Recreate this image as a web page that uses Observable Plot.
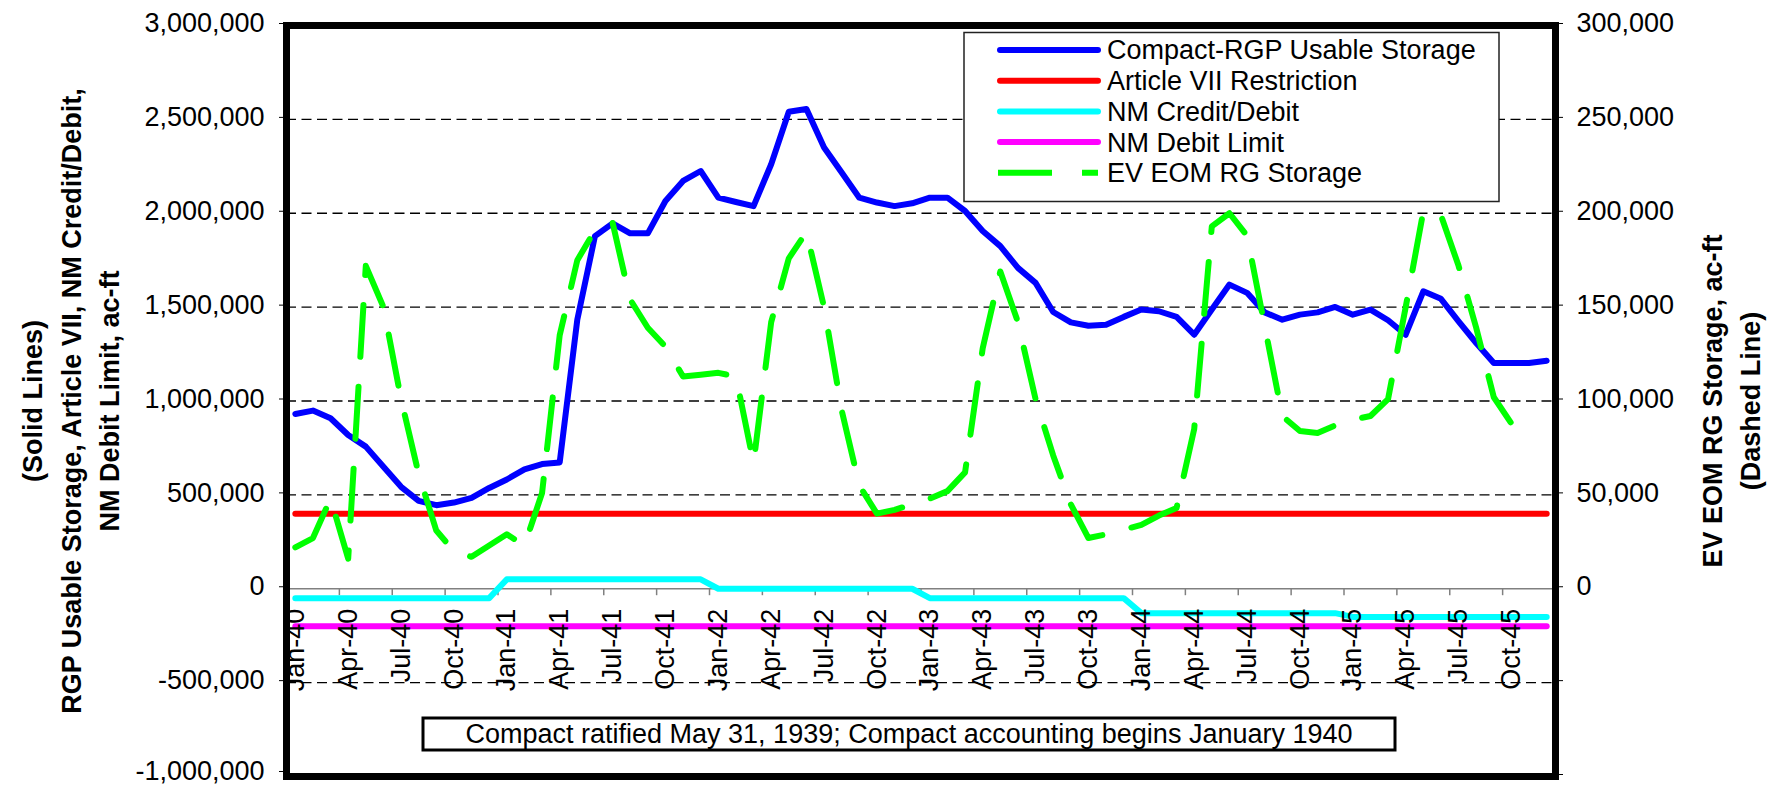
<!DOCTYPE html>
<html>
<head>
<meta charset="utf-8">
<script src="https://cdn.jsdelivr.net/npm/d3@7"></script>
<script src="https://cdn.jsdelivr.net/npm/@observablehq/plot@0.6"></script>
<style>
  html, body { margin: 0; padding: 0; background: #fff; }
  #chart { width: 1769px; height: 787px; }
</style>
</head>
<body>
<div id="chart"></div>
<script>
// ---------- DATA (monthly, Jan-1940 .. Dec-1945) ----------
const quarterLabels = [
  "Jan-40","Apr-40","Jul-40","Oct-40",
  "Jan-41","Apr-41","Jul-41","Oct-41",
  "Jan-42","Apr-42","Jul-42","Oct-42",
  "Jan-43","Apr-43","Jul-43","Oct-43",
  "Jan-44","Apr-44","Jul-44","Oct-44",
  "Jan-45","Apr-45","Jul-45","Oct-45"
];

// Compact-RGP Usable Storage (left axis, ac-ft)
const rgpUsableStorage = [
  931000, 949000, 908000, 819000, 757000, 650000, 543000, 468000, 445000, 459000, 484000, 537000,
  582000, 636000, 664000, 673000, 1433000, 1878000, 1946000, 1893000, 1893000, 2065000, 2172000, 2225000,
  2083000, 2060000, 2038000, 2261000, 2541000, 2555000, 2350000, 2217000, 2083000, 2057000, 2038000, 2053000,
  2083000, 2083000, 2012000, 1905000, 1825000, 1709000, 1629000, 1474000, 1419000, 1401000, 1406000, 1448000,
  1487000, 1478000, 1448000, 1353000, 1487000, 1620000, 1576000, 1472000, 1433000, 1460000, 1472000, 1501000,
  1460000, 1487000, 1430000, 1353000, 1584000, 1544000, 1424000, 1309000, 1202000, 1202000, 1202000, 1214000
];

// Article VII Restriction (left axis)
const articleVII = [
  400000, 400000, 400000, 400000, 400000, 400000, 400000, 400000, 400000, 400000, 400000, 400000,
  400000, 400000, 400000, 400000, 400000, 400000, 400000, 400000, 400000, 400000, 400000, 400000,
  400000, 400000, 400000, 400000, 400000, 400000, 400000, 400000, 400000, 400000, 400000, 400000,
  400000, 400000, 400000, 400000, 400000, 400000, 400000, 400000, 400000, 400000, 400000, 400000,
  400000, 400000, 400000, 400000, 400000, 400000, 400000, 400000, 400000, 400000, 400000, 400000,
  400000, 400000, 400000, 400000, 400000, 400000, 400000, 400000, 400000, 400000, 400000, 400000
];

// NM Credit/Debit (left axis)
const nmCreditDebit = [
  -50000, -50000, -50000, -50000, -50000, -50000, -50000, -50000, -50000, -50000, -50000, -50000,
  50000, 50000, 50000, 50000, 50000, 50000, 50000, 50000, 50000, 50000, 50000, 50000,
  0, 0, 0, 0, 0, 0, 0, 0, 0, 0, 0, 0,
  -50000, -50000, -50000, -50000, -50000, -50000, -50000, -50000, -50000, -50000, -50000, -50000,
  -130000, -130000, -130000, -130000, -130000, -130000, -130000, -130000, -130000, -130000, -130000, -130000,
  -150000, -150000, -150000, -150000, -150000, -150000, -150000, -150000, -150000, -150000, -150000, -150000
];

// NM Debit Limit (left axis)
const nmDebitLimit = [
  -200000, -200000, -200000, -200000, -200000, -200000, -200000, -200000, -200000, -200000, -200000, -200000,
  -200000, -200000, -200000, -200000, -200000, -200000, -200000, -200000, -200000, -200000, -200000, -200000,
  -200000, -200000, -200000, -200000, -200000, -200000, -200000, -200000, -200000, -200000, -200000, -200000,
  -200000, -200000, -200000, -200000, -200000, -200000, -200000, -200000, -200000, -200000, -200000, -200000,
  -200000, -200000, -200000, -200000, -200000, -200000, -200000, -200000, -200000, -200000, -200000, -200000,
  -200000, -200000, -200000, -200000, -200000, -200000, -200000, -200000, -200000, -200000, -200000, -200000
];

// EV EOM RG Storage (right axis, ac-ft), Jan-40 .. Nov-45
const evStorage = [
  22000, 27000, 48000, 16000, 172000, 150000, 101000, 61000, 31000, 20000, 17000, 23000,
  29000, 23000, 51000, 135000, 175000, 191000, 195000, 154000, 139000, 129000, 113000, 114000,
  115000, 113000, 67000, 142000, 176000, 190000, 150000, 95000, 55000, 40000, 42000, 45000,
  48000, 52000, 62000, 128000, 169000, 142000, 101000, 71000, 45000, 27000, 29000, 31500,
  34000, 39000, 43000, 85000, 193000, 200000, 188000, 140000, 92000, 84000, 83000, 87000,
  90000, 92000, 101000, 150000, 201000, 199000, 172000, 139000, 102000, 88000, 83000
];

const leftTicks = [-1000000, -500000, 0, 500000, 1000000, 1500000, 2000000, 2500000, 3000000];
const gridValues = [-500000, 500000, 1000000, 1500000, 2000000, 2500000];

const seriesNames = ["Compact-RGP Usable Storage", "Article VII Restriction", "NM Credit/Debit", "NM Debit Limit", "EV EOM RG Storage"];
const seriesColors = ["#0000ff", "#ff0000", "#00ffff", "#ff00ff", "#00ff00"];

const leftTitle = "(Solid Lines)\nRGP Usable Storage, Article VII, NM Credit/Debit,\nNM Debit Limit, ac-ft";
const rightTitle = "EV EOM RG Storage, ac-ft\n(Dashed Line)";
const noteText = "Compact ratified May 31, 1939; Compact accounting begins January 1940";

// ---------- CHART ----------
const secondaryFactor = 10; // right axis = left axis / 10
const fmt = d => d3.format(",")(d).replace("\u2212", "-");
const monthIdx = d3.range(rgpUsableStorage.length);
const evIdx = d3.range(evStorage.length);
const quarterIdx = quarterLabels.map((_, i) => i * 3);
const boundaries = d3.range(2.5, rgpUsableStorage.length - 3, 3);
const FONT = "'Liberation Sans', Arial, Helvetica, sans-serif";

const solid = (arr, color) => Plot.line(monthIdx, {
  x: d => d, y: d => arr[d], stroke: color, strokeWidth: 6,
  strokeLinecap: "round", strokeLinejoin: "round"
});

const chart = Plot.plot({
  width: 1769,
  height: 787,
  marginLeft: 286,
  marginRight: 214,
  marginTop: 25,
  marginBottom: 11,
  style: { fontFamily: FONT, fontSize: "27px", color: "#000", background: "#fff" },
  x: { type: "linear", domain: [-0.5, 71.5], axis: null },
  y: { type: "linear", domain: [-1000000, 3000000] },
  marks: [
    Plot.ruleY(gridValues, { stroke: "#000", strokeWidth: 1.3, strokeDasharray: "10,5.5" }),
    Plot.ruleY([0], { stroke: "#808080", strokeWidth: 1.5 }),
    Plot.ruleX(boundaries, { y1: 0, y2: -37000, stroke: "#808080", strokeWidth: 1.5 }),
    solid(rgpUsableStorage, seriesColors[0]),
    solid(articleVII, seriesColors[1]),
    solid(nmCreditDebit, seriesColors[2]),
    solid(nmDebitLimit, seriesColors[3]),
    Plot.line(evIdx, {
      x: d => d, y: d => evStorage[d] * secondaryFactor, stroke: seriesColors[4],
      strokeWidth: 6, strokeDasharray: "52,30", strokeLinejoin: "round"
    }),
    Plot.axisY({ anchor: "left", ticks: leftTicks.slice(1), tickSize: 7, tickPadding: 15, tickFormat: fmt, label: null, dy: -2 }),
    Plot.axisY({ anchor: "left", ticks: leftTicks.slice(0, 1), tickSize: 7, tickPadding: 15, tickFormat: fmt, label: null, dy: -5 }),
    Plot.axisY({ anchor: "right", ticks: leftTicks, tickSize: 7, tickPadding: 14,
      tickFormat: d => d >= 0 ? fmt(d / secondaryFactor) : "", label: null, dy: -2 }),
    Plot.text(quarterIdx, {
      x: d => d, y: 0, text: (d, i) => quarterLabels[i], rotate: -90,
      textAnchor: "end", dy: 20, fill: "#000"
    }),
    Plot.frame({ stroke: "#000", strokeWidth: 7 }),
    Plot.text([leftTitle], {
      text: d => d, frameAnchor: "left", textAnchor: "middle", rotate: -90, dx: -218,
      fontWeight: "bold", lineHeight: 1.42, fill: "#000"
    }),
    Plot.text([rightTitle], {
      text: d => d, frameAnchor: "right", textAnchor: "middle", rotate: -90, dx: 173,
      fontWeight: "bold", lineHeight: 1.42, fill: "#000"
    })
  ]
});

// ---------- LEGEND & NOTE (inside the plot frame) ----------
const svg = d3.select(chart);
const lg = svg.append("g").attr("font-family", FONT).attr("font-size", 27).attr("text-anchor", "start");
const L = { x: 964, y: 32.5, w: 535, h: 169, row0: 50, rowStep: 30.7, lx1: 1000, lx2: 1098, tx: 1107 };
lg.append("rect").attr("x", L.x).attr("y", L.y).attr("width", L.w).attr("height", L.h)
  .attr("fill", "#fff").attr("stroke", "#222").attr("stroke-width", 1.5);
seriesNames.forEach((name, k) => {
  const yy = L.row0 + k * L.rowStep;
  const dashed = k === 4;
  lg.append("line").attr("x1", dashed ? 998 : L.lx1).attr("x2", L.lx2).attr("y1", yy).attr("y2", yy)
    .attr("stroke", seriesColors[k]).attr("stroke-width", 6)
    .attr("stroke-linecap", dashed ? "butt" : "round")
    .attr("stroke-dasharray", dashed ? "54,30" : null);
  lg.append("text").attr("x", L.tx).attr("y", yy).attr("dy", "0.35em")
    .attr("text-anchor", "start").attr("fill", "#000").text(name);
});

const ng = svg.append("g").attr("font-family", FONT).attr("font-size", 27);
ng.append("rect").attr("x", 423).attr("y", 718).attr("width", 972).attr("height", 32)
  .attr("fill", "#fff").attr("stroke", "#000").attr("stroke-width", 3);
ng.append("text").attr("x", 909).attr("y", 734).attr("dy", "0.35em").attr("text-anchor", "middle")
  .attr("fill", "#000").text(noteText);

document.getElementById("chart").appendChild(chart);
</script>
</body>
</html>
